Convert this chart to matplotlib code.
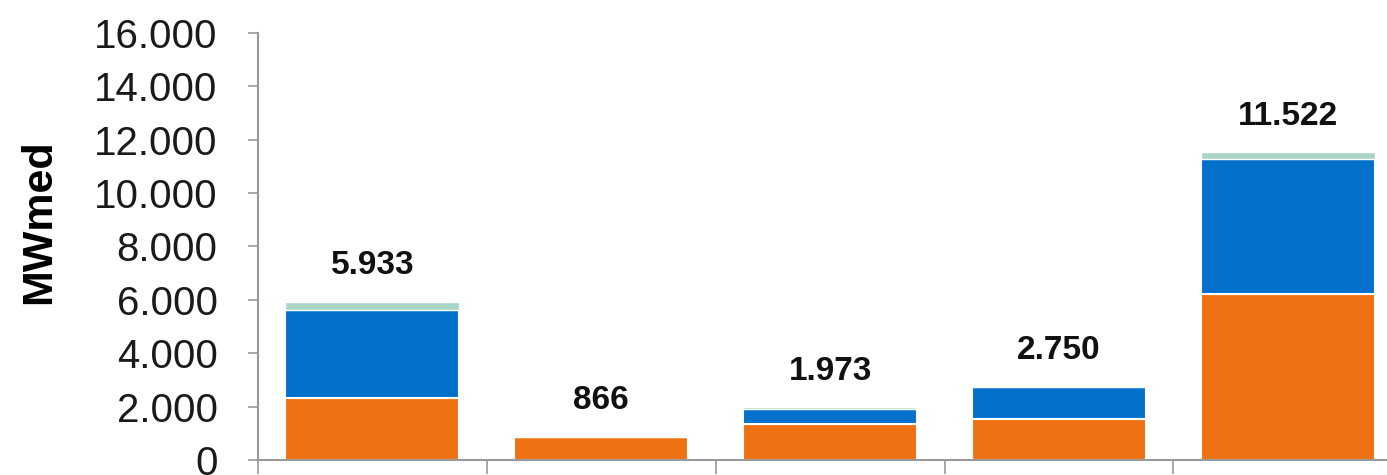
import matplotlib.pyplot as plt
import numpy as np

# Data (MWmed)
categories = ['A', 'B', 'C', 'D', 'E']
orange = [2320, 866, 1340, 1550, 6220]
blue = [3300, 0, 570, 1180, 5050]
green = [313, 0, 63, 20, 252]
totals = ['5.933', '866', '1.973', '2.750', '11.522']
yticks = [0, 2000, 4000, 6000, 8000, 10000, 12000, 14000, 16000]
ytick_labels = ['0', '2.000', '4.000', '6.000', '8.000', '10.000', '12.000', '14.000', '16.000']

plt.rcParams['font.family'] = ['Liberation Sans', 'DejaVu Sans']

fig = plt.figure(figsize=(13.87, 4.75), dpi=100)
ax = fig.add_axes([0.186, 0.0316, 0.825, 0.899])

x = np.arange(len(categories))
w = 0.76
orange = np.array(orange)
blue = np.array(blue)
green = np.array(green)

ax.bar(x, orange, w, color='#F07113', edgecolor='white', linewidth=1.5)
ax.bar(x, blue, w, bottom=orange, color='#0370CC', edgecolor='white', linewidth=1.5)
ax.bar(x, green, w, bottom=orange + blue, color='#A8D5C8', edgecolor='white', linewidth=1.0)

top = orange + blue + green
for xi, t, lab in zip(x, top, totals):
    ax.annotate(lab, (xi, t), xytext=(0, 26), textcoords='offset points',
                ha='center', va='center', fontsize=24, fontweight='bold', color='#111111')

ax.set_xlim(-0.5, len(categories) - 0.5)
ax.set_ylim(0, 16000)
ax.set_yticks(yticks)
ax.set_yticklabels(ytick_labels, fontsize=29, color='#1a1a1a')
ax.set_xticks(np.arange(-0.5, len(categories) + 0.5, 1))
ax.set_xticklabels([])
ax.tick_params(axis='y', length=7, width=1.2, color='#999999', pad=22)
ax.tick_params(axis='x', length=10, width=1.2, color='#999999')

for s in ['top', 'right']:
    ax.spines[s].set_visible(False)
for s in ['left', 'bottom']:
    ax.spines[s].set_color('#999999')
    ax.spines[s].set_linewidth(1.5)

ax.set_ylabel('MWmed', fontsize=31, fontweight='bold')
ax.yaxis.set_label_coords(-0.174, 0.557)

fig.savefig('out.png', dpi=100)
